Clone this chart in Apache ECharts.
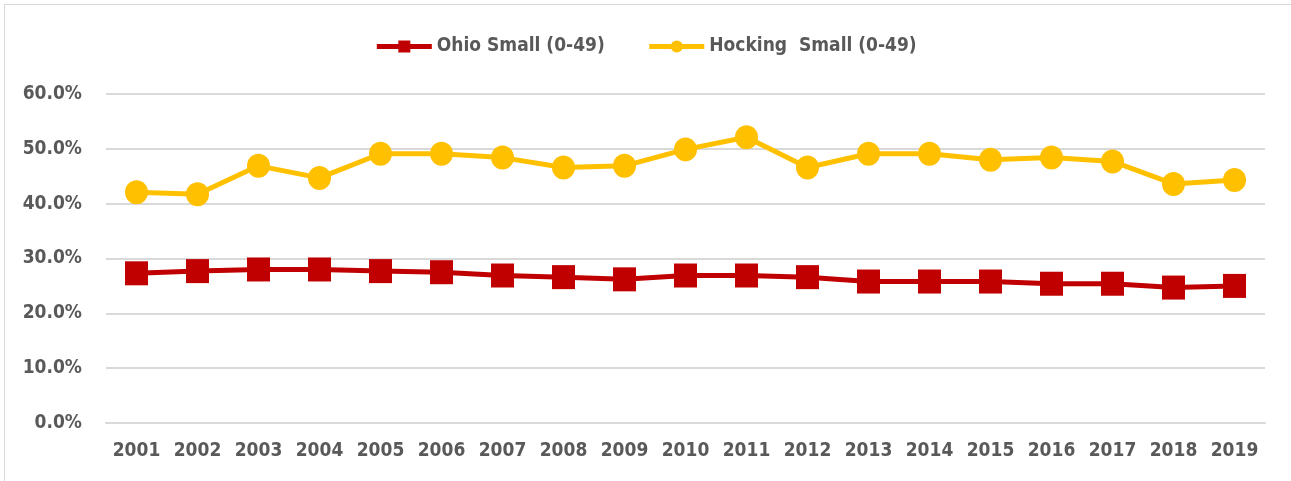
<!DOCTYPE html>
<html>
<head>
<meta charset="utf-8">
<script src="https://cdn.jsdelivr.net/npm/echarts@6/dist/echarts.min.js"></script>
<style>
html,body{margin:0;padding:0;background:#fff;}
#frame{position:absolute;left:4px;top:4px;width:1300px;height:490px;border:1px solid #d9d9d9;box-sizing:border-box;}
#chart{position:absolute;left:0;top:0;width:1291px;height:481px;}
</style>
</head>
<body>
<div id="frame"></div>
<div id="chart"></div>
<script>
const years = ['2001','2002','2003','2004','2005','2006','2007','2008','2009','2010','2011','2012','2013','2014','2015','2016','2017','2018','2019'];
const ohioSmall = [27.3,27.7,28.0,28.0,27.7,27.5,26.9,26.6,26.2,26.9,26.9,26.6,25.8,25.8,25.8,25.4,25.4,24.7,25.0];
const hockingSmall = [42.1,41.7,46.9,44.7,49.1,49.1,48.4,46.6,46.9,49.9,52.1,46.6,49.1,49.1,48.0,48.4,47.7,43.6,44.3];
const seriesNames = ['Ohio Small (0-49)', 'Hocking  Small (0-49)'];

const FONT = "'Liberation Sans Narrow','DejaVu Sans Condensed',sans-serif";
const chart = echarts.init(document.getElementById('chart'));
chart.setOption({
  animation: false,
  backgroundColor: 'transparent',
  textStyle: {fontFamily: FONT},
  legend: {
    top: 32,
    left: 'center',
    itemWidth: 55,
    itemHeight: 15,
    itemGap: 42,
    lineStyle: {width: 5},
    textStyle: {fontFamily: FONT, fontSize: 19, fontWeight: 'bold', color: '#595959'},
    data: seriesNames
  },
  grid: {left: 106, right: 26, top: 94, bottom: 58},
  xAxis: {
    type: 'category',
    data: years,
    boundaryGap: true,
    axisLine: {lineStyle: {color: '#d9d9d9', width: 2}},
    axisTick: {show: false},
    axisLabel: {interval: 0, fontFamily: FONT, fontSize: 19, fontWeight: 'bold', color: '#595959', margin: 19}
  },
  yAxis: {
    type: 'value',
    min: 0, max: 60, interval: 10,
    axisLine: {show: false},
    axisTick: {show: false},
    splitLine: {lineStyle: {color: '#d9d9d9', width: 2}},
    axisLabel: {fontFamily: FONT, fontSize: 19, fontWeight: 'bold', color: '#595959', margin: 24,
      formatter: v => v.toFixed(1) + '%'}
  },
  series: [
    {
      name: seriesNames[0], type: 'line', data: ohioSmall,
      symbol: 'rect', symbolSize: [23, 24],
      lineStyle: {color: '#C00000', width: 5},
      itemStyle: {color: '#C00000'}
    },
    {
      name: seriesNames[1], type: 'line', data: hockingSmall,
      symbol: 'circle', symbolSize: [23, 24],
      lineStyle: {color: '#FFC000', width: 5},
      itemStyle: {color: '#FFC000'}
    }
  ]
});
</script>
</body>
</html>
